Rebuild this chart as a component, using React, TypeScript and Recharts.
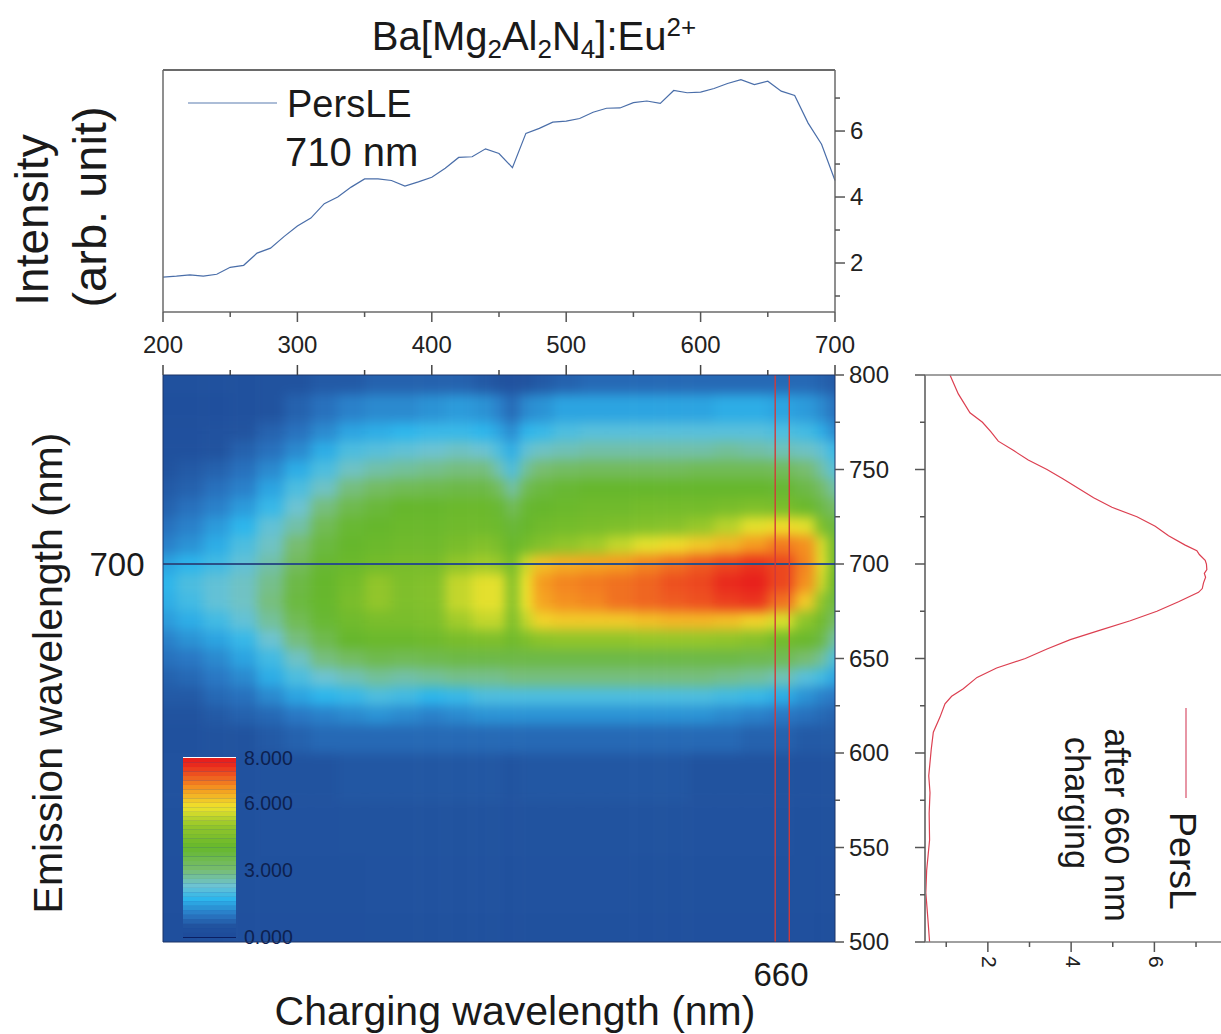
import { ComposedChart, Line, LineChart, ReferenceLine, Scatter, ScatterChart, XAxis, YAxis } from 'recharts';

const W = 1221;
const H = 1034;
const FONT = '"Liberation Sans", Arial, sans-serif';

// top panel: PersLE at 710 nm vs charging wavelength
const chargingNm = [200, 210, 220, 230, 240, 250, 260, 270, 280, 290, 300, 310, 320, 330, 340, 350, 360, 370, 380, 390, 400, 410, 420, 430, 440, 450, 460, 470, 480, 490, 500, 510, 520, 530, 540, 550, 560, 570, 580, 590, 600, 610, 620, 630, 640, 650, 660, 670, 680, 690, 700];
const persLE = [1.57, 1.6, 1.64, 1.6, 1.66, 1.87, 1.93, 2.3, 2.45, 2.8, 3.12, 3.36, 3.8, 4.0, 4.3, 4.55, 4.55, 4.5, 4.33, 4.46, 4.6, 4.87, 5.2, 5.22, 5.46, 5.32, 4.89, 5.93, 6.08, 6.27, 6.3, 6.38, 6.57, 6.69, 6.7, 6.86, 6.91, 6.84, 7.23, 7.16, 7.18, 7.29, 7.44, 7.56, 7.41, 7.51, 7.21, 7.08, 6.24, 5.6, 4.5];

// right panel: PersL after 660 nm charging
const emissionNm = [800, 790, 780, 775, 770, 765, 760, 755, 750, 745, 740, 735, 730, 725, 720, 715, 710, 707, 705, 702, 700, 697, 695, 693, 690, 687, 685, 680, 675, 670, 665, 660, 655, 650, 645, 640, 634, 630, 626, 619, 611, 602, 588, 579, 568, 554, 538, 526, 512, 500];
const persL = [1.09, 1.29, 1.57, 1.87, 2.07, 2.25, 2.62, 2.97, 3.42, 3.81, 4.18, 4.54, 4.98, 5.58, 6.02, 6.34, 6.74, 7.02, 7.08, 7.22, 7.25, 7.26, 7.2, 7.23, 7.18, 7.15, 7.06, 6.58, 6.06, 5.42, 4.7, 3.98, 3.42, 2.9, 2.21, 1.74, 1.41, 1.13, 0.97, 0.85, 0.69, 0.64, 0.58, 0.61, 0.59, 0.6, 0.53, 0.51, 0.56, 0.6];

// heat map, one row per emission wavelength
const heatCols = [200, 220, 240, 260, 280, 300, 320, 340, 360, 380, 400, 420, 440, 450, 460, 470, 480, 500, 520, 540, 560, 580, 600, 620, 640, 660, 680, 690, 700];
const heatRows = [800, 780, 770, 760, 750, 740, 730, 720, 710, 700, 690, 680, 670, 660, 650, 640, 630, 620, 610, 590, 560, 530, 500];
const heatValues = [
  [.4, .4, .4, .4, .5, .5, .6, .6, .7, .7, .7, .7, .6, .5, .45, .5, .6, .7, .8, .8, .8, .8, .8, .8, .8, .8, .8, .7, .6],
  [.3, .3, .3, .4, .5, .7, .9, 1.1, 1.2, 1.2, 1.3, 1.4, 1.3, 1.1, .8, 1.2, 1.3, 1.5, 1.5, 1.5, 1.5, 1.5, 1.5, 1.6, 1.6, 1.5, 1.4, 1.2, .9],
  [.3, .3, .4, .5, .7, .9, 1.2, 1.5, 1.6, 1.7, 1.8, 1.8, 1.7, 1.5, 1.2, 1.7, 1.8, 2.0, 2.1, 2.1, 2.1, 2.1, 2.1, 2.1, 2.1, 2.0, 1.9, 1.6, 1.2],
  [.4, .4, .5, .7, .9, 1.2, 1.6, 2.0, 2.1, 2.2, 2.3, 2.4, 2.3, 2.0, 1.6, 2.2, 2.4, 2.5, 2.6, 2.6, 2.6, 2.6, 2.6, 2.7, 2.6, 2.5, 2.4, 2.2, 1.8],
  [.5, .6, .7, .9, 1.2, 1.6, 2.0, 2.4, 2.6, 2.7, 2.8, 2.9, 2.9, 2.5, 2.0, 2.7, 3.0, 3.2, 3.3, 3.3, 3.3, 3.3, 3.4, 3.4, 3.4, 3.3, 3.0, 2.6, 2.1],
  [.6, .7, .9, 1.1, 1.5, 2.0, 2.4, 2.9, 3.2, 3.4, 3.5, 3.6, 3.6, 3.2, 2.6, 3.4, 3.7, 3.9, 4.0, 4.0, 4.0, 4.0, 4.0, 4.0, 4.0, 3.9, 3.6, 3.1, 2.6],
  [.7, .9, 1.1, 1.4, 1.8, 2.3, 2.9, 3.5, 3.8, 4.0, 4.0, 4.1, 4.1, 3.9, 3.3, 3.9, 4.0, 4.1, 4.2, 4.2, 4.3, 4.3, 4.3, 4.4, 4.5, 4.4, 4.1, 3.6, 3.1],
  [.9, 1.1, 1.4, 1.7, 2.2, 2.6, 3.4, 3.9, 4.0, 4.1, 4.1, 4.2, 4.2, 4.1, 3.8, 4.0, 4.2, 4.3, 4.4, 4.5, 4.6, 4.7, 5.0, 5.3, 5.7, 5.9, 5.7, 4.4, 3.7],
  [1.1, 1.3, 1.6, 2.0, 2.4, 3.0, 3.7, 4.0, 4.1, 4.2, 4.2, 4.4, 4.6, 4.4, 4.0, 4.3, 4.6, 4.9, 5.1, 5.4, 5.7, 5.9, 6.1, 6.3, 6.6, 6.9, 6.7, 5.6, 4.1],
  [1.5, 1.7, 1.9, 2.2, 2.6, 3.3, 3.9, 4.1, 4.3, 4.4, 4.4, 4.9, 5.1, 5.0, 4.3, 5.5, 6.2, 6.4, 6.5, 6.6, 6.8, 7.0, 7.2, 7.4, 7.6, 7.4, 6.8, 5.7, 4.1],
  [1.7, 2.0, 2.2, 2.4, 2.8, 3.6, 4.0, 4.3, 4.9, 4.5, 4.6, 5.4, 5.7, 5.7, 4.5, 5.8, 6.6, 6.8, 6.9, 7.0, 7.1, 7.3, 7.4, 7.7, 7.9, 7.4, 6.7, 5.5, 4.0],
  [1.6, 1.9, 2.2, 2.4, 2.9, 3.7, 4.0, 4.4, 4.9, 4.5, 4.6, 5.4, 5.7, 5.7, 4.5, 5.8, 6.5, 6.7, 6.8, 7.0, 7.1, 7.2, 7.3, 7.5, 7.6, 7.0, 6.1, 4.8, 3.7],
  [1.4, 1.6, 1.9, 2.2, 2.7, 3.4, 3.9, 4.2, 4.4, 4.4, 4.5, 5.1, 5.4, 5.4, 4.4, 5.4, 6.0, 6.1, 6.1, 6.1, 6.2, 6.3, 6.3, 6.2, 6.0, 5.6, 4.8, 4.2, 3.1],
  [1.1, 1.3, 1.5, 1.8, 2.3, 2.9, 3.5, 4.0, 4.1, 4.1, 4.2, 4.4, 4.5, 4.5, 4.2, 4.5, 4.8, 4.9, 4.9, 4.9, 5.0, 5.0, 5.0, 4.9, 4.7, 4.3, 4.1, 3.6, 2.6],
  [.9, 1.0, 1.2, 1.5, 1.9, 2.4, 2.9, 3.2, 3.5, 3.4, 3.5, 3.6, 3.6, 3.6, 3.6, 3.6, 3.6, 3.6, 3.6, 3.6, 3.6, 3.6, 3.6, 3.6, 3.5, 3.4, 3.0, 2.7, 2.0],
  [.7, .8, 1.0, 1.2, 1.6, 2.0, 2.3, 2.5, 2.7, 2.6, 2.7, 2.8, 2.8, 2.8, 2.9, 2.9, 2.9, 2.9, 2.9, 2.9, 2.9, 2.9, 2.9, 2.8, 2.7, 2.5, 2.1, 1.9, 1.5],
  [.6, .6, .8, .9, 1.2, 1.5, 1.7, 1.8, 2.0, 1.9, 1.7, 1.8, 2.0, 2.0, 2.0, 2.0, 2.0, 2.0, 2.0, 2.0, 2.0, 2.0, 2.0, 1.9, 1.8, 1.6, 1.3, 1.1, 1.0],
  [.5, .5, .6, .7, .8, 1.0, 1.1, 1.2, 1.3, 1.2, 1.1, 1.2, 1.3, 1.3, 1.3, 1.3, 1.3, 1.3, 1.3, 1.3, 1.3, 1.3, 1.3, 1.2, 1.1, 1.0, .9, .8, .7],
  [.4, .4, .5, .5, .6, .7, .8, .8, .8, .8, .8, .8, .8, .8, .8, .8, .8, .8, .8, .8, .8, .8, .8, .8, .7, .7, .6, .6, .6],
  [.45, .45, .45, .45, .5, .5, .5, .55, .55, .55, .55, .55, .55, .55, .5, .55, .55, .55, .55, .55, .55, .55, .5, .5, .5, .5, .45, .45, .45],
  [.4, .4, .4, .4, .45, .45, .45, .5, .5, .5, .5, .5, .5, .5, .45, .5, .5, .5, .5, .5, .5, .5, .45, .45, .45, .45, .4, .4, .4],
  [.35, .35, .35, .4, .4, .4, .4, .4, .45, .45, .45, .45, .45, .45, .4, .45, .45, .45, .45, .45, .4, .4, .4, .4, .4, .4, .4, .35, .35],
  [.3, .3, .3, .35, .35, .35, .35, .35, .4, .4, .4, .4, .4, .4, .35, .4, .4, .4, .4, .4, .35, .35, .35, .35, .35, .35, .35, .3, .3],
];

// colour scale
const colorStops: [number, string][] = [[0, '#1d4a9a'], [0.5, '#21539f'], [1, '#2a78c4'], [1.7, '#2db6ec'], [2.3, '#6dc3d2'], [3, '#78bd70'], [4, '#66b72c'], [5, '#96c72a'], [5.8, '#efe42c'], [6.6, '#f59b20'], [7.2, '#ee5a20'], [7.8, '#e8201c'], [8, '#e8201c']];
const barLevels = [0.1, 0.3, 0.5, 0.7, 0.9, 1.1, 1.3, 1.5, 1.7, 1.9, 2.1, 2.3, 2.5, 2.7, 2.9, 3.1, 3.3, 3.5, 3.7, 3.9, 4.1, 4.3, 4.5, 4.7, 4.9, 5.1, 5.3, 5.5, 5.7, 5.9, 6.1, 6.3, 6.5, 6.7, 6.9, 7.1, 7.3, 7.5, 7.7, 7.9];
const barTicks = [0, 3, 6, 8];

const xTicks = [200, 250, 300, 350, 400, 450, 500, 550, 600, 650, 700];
const topYTicks = [1, 2, 3, 4, 5, 6, 7];
const heatYTicks = [500, 525, 550, 575, 600, 625, 650, 675, 700, 725, 750, 775, 800];
const rightXTicks = [1, 2, 3, 4, 5, 6, 7];

const topData = chargingNm.map((x, i) => ({ x, v: persLE[i] }));
const rightData = emissionNm.map((y, i) => ({ y, v: persL[i] }));
const markerData = heatCols.map((x) => ({ x, e: 700 }));

const PX_X = 672 / 500;
const PX_Y = 567 / 300;
const BLEED = 40;

const hexToRgb = (h: string) => [1, 3, 5].map((i) => parseInt(h.slice(i, i + 2), 16));
const heatColor = (v: number) => {
  for (let i = 1; i < colorStops.length; i++) {
    if (v <= colorStops[i][0]) {
      const [a, ca] = colorStops[i - 1];
      const [b, cb] = colorStops[i];
      const t = (v - a) / (b - a);
      const ra = hexToRgb(ca);
      const rb = hexToRgb(cb);
      return `rgb(${ra.map((c, k) => Math.round(c + (rb[k] - c) * t)).join(',')})`;
    }
  }
  return colorStops[colorStops.length - 1][1];
};

const heatData = heatRows.flatMap((y, r) =>
  heatCols.map((x, c) => ({
    x,
    y,
    v: heatValues[r][c],
    left: c === 0 ? BLEED / PX_X : (x - heatCols[c - 1]) / 2,
    right: c === heatCols.length - 1 ? BLEED / PX_X : (heatCols[c + 1] - x) / 2,
    up: r === 0 ? BLEED / PX_Y : (heatRows[r - 1] - y) / 2,
    down: r === heatRows.length - 1 ? BLEED / PX_Y : (y - heatRows[r + 1]) / 2,
  })),
);
const barData = barLevels.map((y) => ({ x: 0.5, y }));

const HeatCell = (p: any) => {
  const d = p.payload;
  return (
    <rect
      x={p.cx - d.left * PX_X}
      y={p.cy - d.up * PX_Y}
      width={(d.left + d.right) * PX_X + 0.5}
      height={(d.up + d.down) * PX_Y + 0.5}
      fill={heatColor(d.v)}
    />
  );
};

const BarCell = (p: any) => (
  <rect x={183} y={p.cy - 2.24} width={53} height={4.6} fill={heatColor(p.payload.y)} />
);

const tickStyle = { fontFamily: FONT, fontSize: 24, fill: '#222' };

const BelowTick = ({ x, y, payload }: any) => {
  const major = payload.value % 100 === 0;
  return (
    <g>
      <line x1={x} x2={x} y1={y} y2={y + (major ? 10 : 5)} stroke="#555" strokeWidth={1.5} />
      {major && <text x={x} y={y + 41} textAnchor="middle" {...tickStyle}>{payload.value}</text>}
    </g>
  );
};

const AboveTick = ({ x, y, payload }: any) => (
  <line x1={x} x2={x} y1={y} y2={y - (payload.value % 100 === 0 ? 10 : 5)} stroke="#444" strokeWidth={1.5} />
);

const TopRightTick = ({ x, y, payload }: any) => {
  const major = payload.value % 2 === 0;
  return (
    <g>
      <line x1={x} x2={x + (major ? 10 : 5)} y1={y} y2={y} stroke="#555" strokeWidth={1.5} />
      {major && <text x={x + 15} y={y + 8} {...tickStyle}>{payload.value}</text>}
    </g>
  );
};

const HeatRightTick = ({ x, y, payload }: any) => {
  const major = payload.value % 50 === 0;
  return (
    <g>
      <line x1={x} x2={x + (major ? 9 : 5)} y1={y} y2={y} stroke="#555" strokeWidth={1.5} />
      {major && <text x={x + 14} y={y + 8} {...tickStyle}>{payload.value}</text>}
    </g>
  );
};

const RightLeftTick = ({ x, y, payload }: any) => (
  <line x1={x} x2={x - (payload.value % 50 === 0 ? 10 : 5)} y1={y} y2={y} stroke="#555" strokeWidth={1.5} />
);

const RightBottomTick = ({ x, y, payload }: any) => {
  const major = payload.value % 2 === 0;
  return (
    <g>
      <line x1={x} x2={x} y1={y} y2={y + (major ? 10 : 5)} stroke="#555" strokeWidth={1.5} />
      {major && (
        <text x={x} y={y + 14} transform={`rotate(90 ${x} ${y + 14})`} dominantBaseline="middle" {...tickStyle} fontSize={21}>
          {payload.value}
        </text>
      )}
    </g>
  );
};

const layer: React.CSSProperties = { position: 'absolute', left: 0, top: 0 };

const Labels = () => (
  <svg width={W} height={H} style={layer} fontFamily={FONT} fill="#1a1a1a">
    <text x={534} y={50} textAnchor="middle" fontSize={40}>
      Ba[Mg<tspan fontSize={26} dy={8}>2</tspan>
      <tspan dy={-8}>Al</tspan>
      <tspan fontSize={26} dy={8}>2</tspan>
      <tspan dy={-8}>N</tspan>
      <tspan fontSize={26} dy={8}>4</tspan>
      <tspan dy={-8}>]:Eu</tspan>
      <tspan fontSize={26} dy={-14}>2+</tspan>
    </text>
    <text transform="translate(48 220) rotate(-90)" textAnchor="middle" fontSize={46}>Intensity</text>
    <text transform="translate(106 207) rotate(-90)" textAnchor="middle" fontSize={47}>(arb. unit)</text>
    <text x={287} y={117} fontSize={38}>PersLE</text>
    <text x={285} y={166} fontSize={40}>710 nm</text>
    <text transform="translate(62 673) rotate(-90)" textAnchor="middle" fontSize={41}>Emission wavelength (nm)</text>
    <text x={515} y={1025} textAnchor="middle" fontSize={41}>Charging wavelength (nm)</text>
    <text x={117} y={576} textAnchor="middle" fontSize={33}>700</text>
    <text x={781} y={986} textAnchor="middle" fontSize={33}>660</text>
    <text transform="translate(1170 861) rotate(90)" textAnchor="middle" fontSize={37.5}>PersL</text>
    <text transform="translate(1105 825) rotate(90)" textAnchor="middle" fontSize={34.5}>after 660 nm</text>
    <text transform="translate(1065 803) rotate(90)" textAnchor="middle" fontSize={34.5}>charging</text>
    <line x1={188} x2={277} y1={103} y2={103} stroke="#5b7cb0" strokeWidth={1.2} />
    <line x1={1186} x2={1186} y1={708} y2={798} stroke="#d8506a" strokeWidth={1.2} />
  </svg>
);

export default function App() {
  return (
    <div style={{ position: 'absolute', left: 0, top: 0, width: W, height: H, background: '#fff', overflow: 'hidden' }}>
      {/* heat map cells, blurred and clipped to the plot */}
      <div style={{ position: 'absolute', left: 163, top: 375, width: 672, height: 567, overflow: 'hidden' }}>
        <div style={{ position: 'absolute', left: -BLEED, top: -BLEED, filter: 'blur(6px)' }}>
          <ScatterChart width={672 + BLEED * 2} height={567 + BLEED * 2} margin={{ top: BLEED, right: BLEED, bottom: BLEED, left: BLEED }}>
            <XAxis type="number" dataKey="x" domain={[200, 700]} hide />
            <YAxis type="number" dataKey="y" domain={[500, 800]} hide />
            <Scatter data={heatData} shape={HeatCell} isAnimationActive={false} />
          </ScatterChart>
        </div>
      </div>

      {/* colour bar */}
      <div style={layer}>
        <ScatterChart width={W} height={H} margin={{ top: 758, left: 183, right: 935, bottom: 97 }}>
          <XAxis type="number" dataKey="x" domain={[0, 1]} hide />
          <YAxis
            type="number"
            dataKey="y"
            orientation="right"
            domain={[0, 8]}
            ticks={barTicks}
            interval={0}
            width={50}
            axisLine={false}
            tickLine={false}
            tickMargin={2}
            tickFormatter={(v: number) => v.toFixed(3)}
            tick={{ fontFamily: FONT, fontSize: 19.5, fill: '#0d2150' }}
          />
          <Scatter data={barData} shape={BarCell} isAnimationActive={false} />
          <ReferenceLine y={8} stroke="#ffffff" strokeWidth={2} />
          <ReferenceLine y={0} stroke="#0a1a5a" strokeWidth={2} />
        </ScatterChart>
      </div>

      {/* heat map axes and marker lines */}
      <div style={layer}>
        <ComposedChart width={W} height={H} data={markerData} margin={{ top: 374, left: 162, right: 356, bottom: 91 }}>
          <XAxis type="number" dataKey="x" orientation="top" domain={[200, 700]} ticks={xTicks} interval={0} height={1} tickSize={0} tickMargin={0} tick={<AboveTick />} stroke="#1d3566" />
          <XAxis xAxisId="b" type="number" dataKey="x" orientation="bottom" domain={[200, 700]} tick={false} height={1} stroke="#1d3566" />
          <YAxis type="number" dataKey="e" orientation="right" domain={[500, 800]} ticks={heatYTicks} interval={0} width={30} tickSize={0} tickMargin={0} tick={<HeatRightTick />} stroke="#1d3566" />
          <YAxis yAxisId="l" type="number" orientation="left" domain={[500, 800]} tick={false} width={1} stroke="#1d3566" />
          <Line dataKey="e" stroke="#2a4f85" strokeWidth={2} dot={false} isAnimationActive={false} />
          <ReferenceLine x={655.5} stroke="#d03a3a" strokeWidth={1.4} />
          <ReferenceLine x={666} stroke="#d03a3a" strokeWidth={1.4} />
        </ComposedChart>
      </div>

      {/* top line panel */}
      <div style={layer}>
        <LineChart width={W} height={H} data={topData} margin={{ top: 69, left: 162, right: 356, bottom: 692 }}>
          <XAxis dataKey="x" type="number" domain={[200, 700]} ticks={xTicks} interval={0} height={30} tickSize={0} tickMargin={0} tick={<BelowTick />} stroke="#6a6a6a" strokeWidth={1.5} />
          <XAxis xAxisId="t" dataKey="x" type="number" orientation="top" domain={[200, 700]} tick={false} height={1} stroke="#6a6a6a" strokeWidth={2} />
          <YAxis type="number" orientation="right" domain={[0.515, 7.85]} ticks={topYTicks} interval={0} width={30} tickSize={0} tickMargin={0} tick={<TopRightTick />} stroke="#6a6a6a" strokeWidth={1.5} />
          <YAxis yAxisId="l" type="number" orientation="left" domain={[0.515, 7.85]} tick={false} width={1} stroke="#6a6a6a" strokeWidth={1.5} />
          <Line dataKey="v" stroke="#4a6ea9" strokeWidth={1.2} dot={false} isAnimationActive={false} />
        </LineChart>
      </div>

      {/* right line panel, wavelength runs up the page */}
      <div style={layer}>
        <LineChart layout="vertical" width={W} height={H} data={rightData} margin={{ top: 374, left: 924, right: 0, bottom: 62 }}>
          <XAxis type="number" dataKey="v" domain={[0.49, 7.6]} ticks={rightXTicks} interval={0} height={30} tickSize={0} tickMargin={0} tick={<RightBottomTick />} stroke="#808080" strokeWidth={1.5} />
          <XAxis xAxisId="t" type="number" dataKey="v" orientation="top" domain={[0.49, 7.6]} tick={false} height={1} stroke="#808080" strokeWidth={1.5} />
          <YAxis type="number" dataKey="y" orientation="left" reversed domain={[500, 800]} ticks={heatYTicks} interval={0} width={1} tickSize={0} tickMargin={0} tick={<RightLeftTick />} stroke="#808080" strokeWidth={2} />
          <Line dataKey="v" stroke="#dc3f50" strokeWidth={1.2} dot={false} isAnimationActive={false} />
        </LineChart>
      </div>

      <Labels />
    </div>
  );
}
